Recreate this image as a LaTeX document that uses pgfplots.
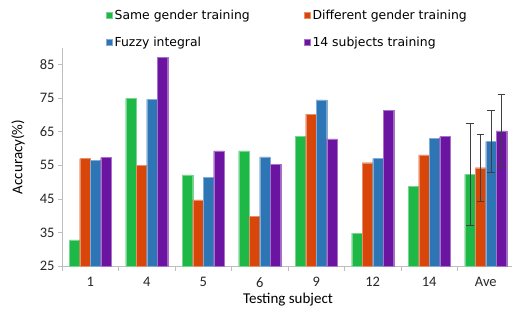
\documentclass[border=0pt]{standalone}
\usepackage{pgfplots}
\pgfplotsset{compat=1.18}
\usepackage{fontspec}
\setmainfont{Carlito}
\newfontfamily\legfont{DejaVu Sans}
\definecolor{cgreen}{RGB}{30,184,70}
\definecolor{corange}{RGB}{217,70,10}
\definecolor{cblue}{RGB}{46,117,182}
\definecolor{cpurple}{RGB}{108,20,162}
\definecolor{axgray}{RGB}{190,190,190}
\begin{document}
\begin{tikzpicture}
\begin{axis}[
  scale only axis,
  width=452pt, height=218pt,
  xmin=-0.5, xmax=7.5,
  ymin=25, ymax=90,
  ytick={25,35,45,55,65,75,85},
  xtick={0,...,7},
  xticklabels={1,4,5,6,9,12,14,Ave},
  minor xtick={-0.5,0.5,...,7.5},
  major x tick style={draw=none},
  minor x tick style={draw=axgray, line width=0.8pt},
  y tick style={draw=axgray, line width=0.8pt},
  tick align=outside,
  minor tick length=5pt,
  major tick length=4pt,
  axis x line*=bottom,
  axis y line*=left,
  axis line style={draw=axgray, line width=0.8pt, -},
  ticklabel style={font=\fontsize{14.5}{16}\selectfont, text=black!85},
  /pgf/number format/assume math mode=true,
  xticklabel style={yshift=-4pt},
  xlabel={Testing subject},
  ylabel={Accuracy(\%)},
  label style={font=\fontsize{15}{17}\selectfont},
  xlabel style={at={(axis description cs:0.5,-0.156)}, anchor=center},
  ylabel style={at={(axis description cs:-0.097,0.5)}, anchor=center},
  legend columns=2,
  legend style={draw=none, fill=none, at={(axis description cs:0.09,1.0)}, anchor=south west, yshift=-4pt,
    font=\legfont\fontsize{12.4}{14}\selectfont, row sep=12pt,
    /tikz/every even column/.append style={column sep=52pt}},
  legend cell align=left,
  legend image code/.code={\fill[#1] (0pt,-3.2pt) rectangle (6.4pt,3.2pt);},
  clip=false,
  unbounded coords=jump,
]
\addplot[ybar, bar width=10.5pt, fill=cgreen, draw=cgreen!60!white, line width=0.4pt, bar shift=-15.75pt] coordinates {(0,32.8) (1,75) (2,52.2) (3,59.3) (4,63.6) (5,34.8) (6,48.7) (7,52.3)};
\addplot[ybar, bar width=10.5pt, fill=corange, draw=corange!60!white, line width=0.4pt, bar shift=-5.25pt] coordinates {(0,57) (1,55) (2,44.7) (3,39.7) (4,70.3) (5,55.8) (6,58.1) (7,54.3)};
\addplot[ybar, bar width=10.5pt, fill=cblue, draw=cblue!60!white, line width=0.4pt, bar shift=5.25pt] coordinates {(0,56.5) (1,74.7) (2,51.4) (3,57.5) (4,74.5) (5,57) (6,63.1) (7,62.1)};
\addplot[ybar, bar width=10.5pt, fill=cpurple, draw=cpurple!60!white, line width=0.4pt, bar shift=15.75pt] coordinates {(0,57.3) (1,87.2) (2,59.3) (3,55.4) (4,62.9) (5,71.5) (6,63.6) (7,65.3)};
\legend{Same gender training, Different gender training, Fuzzy integral, 14 subjects training}
% error bars on Ave (low / high ends)
\addplot[forget plot, sharp plot, mark=none, draw=black!75, line width=0.6pt] coordinates {
 (6.7212,37.0) (6.7212,67.6) (6.7212,nan)
 (6.6512,37.0) (6.7912,37.0) (6.7212,nan)
 (6.6512,67.6) (6.7912,67.6) (6.7212,nan)
 (6.9071,44.4) (6.9071,64.2) (6.9071,nan)
 (6.8371,44.4) (6.9771,44.4) (6.9071,nan)
 (6.8371,64.2) (6.9771,64.2) (6.9071,nan)
 (7.0929,52.9) (7.0929,71.3) (7.0929,nan)
 (7.0229,52.9) (7.1629,52.9) (7.0929,nan)
 (7.0229,71.3) (7.1629,71.3) (7.0929,nan)
 (7.2788,54.4) (7.2788,76.2) (7.2788,nan)
 (7.2088,54.4) (7.3488,54.4) (7.2788,nan)
 (7.2088,76.2) (7.3488,76.2)
};
\end{axis}
\pgfresetboundingbox
\path[use as bounding box] (-62pt,-52pt) rectangle (450pt,266pt);
\end{tikzpicture}
\end{document}
